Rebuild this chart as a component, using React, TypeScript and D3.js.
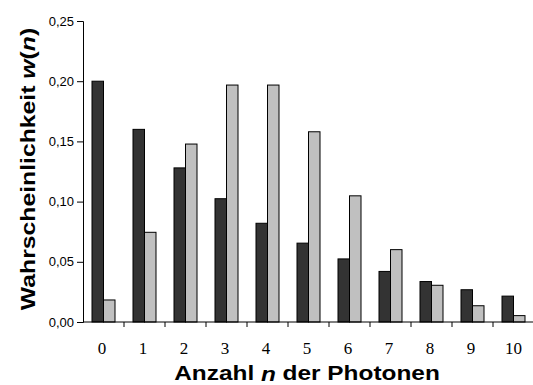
import React, { useEffect, useRef } from 'react';
import * as d3 from 'd3';

// photon numbers n
const photonCounts = ['0', '1', '2', '3', '4', '5', '6', '7', '8', '9', '10'];
// dark bars
const thermalValues = [0.2, 0.16, 0.128, 0.1024, 0.082, 0.0655, 0.0524, 0.042, 0.0336, 0.0268, 0.0215];
// light bars
const poissonValues = [0.0183, 0.0745, 0.1478, 0.1968, 0.1968, 0.158, 0.1048, 0.0601, 0.0305, 0.0135, 0.0053];
const yTickValues = [0, 0.05, 0.1, 0.15, 0.2, 0.25];

const App = () => {
  const ref = useRef<SVGSVGElement>(null);

  useEffect(() => {
    const svg = d3.select(ref.current);
    svg.selectAll('*').remove();

    const left = 83, right = 534, top = 21, bottom = 322;

    const x = d3.scaleBand().domain(photonCounts).range([left, right]);
    const y = d3.scaleLinear().domain([0, 0.25]).range([bottom, top]);
    const inner = d3.scaleBand().domain(['a', 'b']).range([0, 23]);
    const offset = (x.bandwidth() - 23) / 2;

    // clip for the tick digits (top cut off as in the original)
    svg.append('defs').append('clipPath').attr('id', 'tickclip')
      .append('rect').attr('x', 0).attr('y', 342).attr('width', 533).attr('height', 40);

    // bars
    const groups = svg.append('g');
    groups.selectAll('rect.dark')
      .data(thermalValues)
      .join('rect')
      .attr('x', (d, i) => x(photonCounts[i])! + offset + inner('a')!)
      .attr('y', d => y(d))
      .attr('width', inner.bandwidth())
      .attr('height', d => bottom - y(d))
      .attr('fill', '#333333')
      .attr('stroke', '#000')
      .attr('stroke-width', 1);

    groups.selectAll('rect.light')
      .data(poissonValues)
      .join('rect')
      .attr('x', (d, i) => x(photonCounts[i])! + offset + inner('b')!)
      .attr('y', d => y(d))
      .attr('width', inner.bandwidth())
      .attr('height', d => bottom - y(d))
      .attr('fill', '#c0c0c0')
      .attr('stroke', '#000')
      .attr('stroke-width', 1);

    // y axis
    const yAxis = svg.append('g')
      .attr('transform', `translate(${left},0)`)
      .call(d3.axisLeft(y).tickValues(yTickValues).tickSize(6).tickPadding(3)
        .tickFormat(d => d3.format('.2f')(d as number).replace('.', ',')));
    yAxis.select('.domain').attr('stroke', '#000');
    yAxis.selectAll('text')
      .attr('font-family', 'Liberation Sans, Arial, sans-serif')
      .attr('font-size', 13)
      .attr('fill', '#000');

    // x axis: ticks between the groups
    const xAxis = svg.append('g').attr('transform', `translate(0,${bottom})`);
    xAxis.append('line')
      .attr('x1', left).attr('x2', right)
      .attr('stroke', '#000');
    xAxis.selectAll('line.tick')
      .data(photonCounts.slice(1))
      .join('line')
      .attr('x1', d => x(d)!)
      .attr('x2', d => x(d)!)
      .attr('y1', 0).attr('y2', 5)
      .attr('stroke', '#000');

    svg.append('g').attr('clip-path', 'url(#tickclip)')
      .selectAll('text')
      .data(photonCounts)
      .join('text')
      .attr('x', d => x(d)! + x.bandwidth() / 2 - (d.length === 1 ? 1.5 : 0))
      .attr('y', 354)
      .attr('text-anchor', 'middle')
      .attr('font-family', 'Liberation Serif, Times New Roman, serif')
      .attr('font-size', 17)
      .text(d => d);

    // axis titles (wide bold sans)
    const xTitle = svg.append('text')
      .attr('transform', 'translate(307,380) scale(1.22,1)')
      .attr('text-anchor', 'middle')
      .attr('font-family', 'Liberation Sans, Arial, sans-serif')
      .attr('font-weight', 'bold')
      .attr('font-size', 20);
    xTitle.append('tspan').text('Anzahl ');
    xTitle.append('tspan').attr('font-style', 'italic').attr('dy', 1).text('n');
    xTitle.append('tspan').attr('dy', -1).text(' der Photonen');

    const yTitle = svg.append('text')
      .attr('transform', 'translate(34.5,169) rotate(-90) scale(1.27,1)')
      .attr('text-anchor', 'middle')
      .attr('font-family', 'Liberation Sans, Arial, sans-serif')
      .attr('font-weight', 'bold')
      .attr('font-size', 19.5);
    yTitle.append('tspan').text('Wahrscheinlichkeit ');
    yTitle.append('tspan').attr('font-style', 'italic').text('w');
    yTitle.append('tspan').text('(');
    yTitle.append('tspan').attr('font-style', 'italic').text('n');
    yTitle.append('tspan').text(')');
  }, []);

  return (
    <svg
      ref={ref}
      width={533}
      height={385}
      style={{ position: 'absolute', left: 0, top: 0, background: '#fff' }}
    />
  );
};

export default App;
